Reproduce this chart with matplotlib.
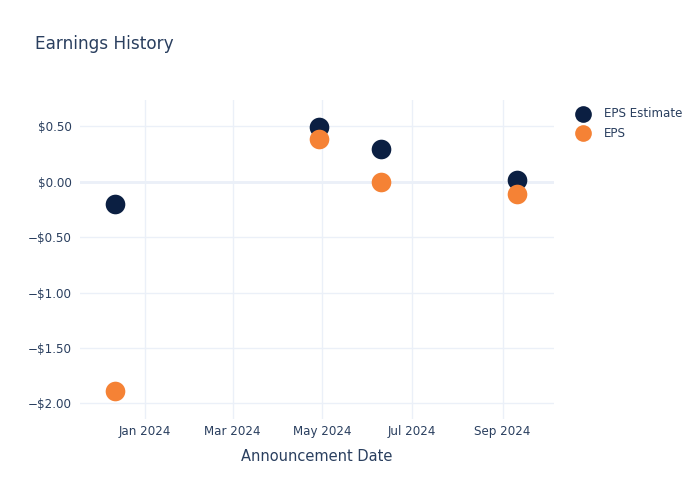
import matplotlib
matplotlib.use("Agg")
import matplotlib.pyplot as plt
import matplotlib.dates as mdates
from matplotlib.ticker import FuncFormatter
import datetime as dt

# --- dados ---
datas = ["2023-12-12", "2024-04-29", "2024-06-10", "2024-09-11"]
eps_estimate = [-0.20, 0.49, 0.30, 0.02]
eps_real = [-1.89, 0.39, 0.00, -0.11]
y_ticks = [0.5, 0.0, -0.5, -1.0, -1.5, -2.0]
x_ticks = ["2024-01-01", "2024-03-01", "2024-05-01", "2024-07-01", "2024-09-01"]

texto = "#2a3f5f"
grade = "#ebf0f8"
azul = "#0b1f42"
laranja = "#f58235"

x = [dt.datetime.fromisoformat(d) for d in datas]

fig = plt.figure(figsize=(7, 5), dpi=100)
ax = fig.add_axes([0.1143, 0.162, 0.677, 0.638])

ax.scatter(x, eps_estimate, s=200, color=azul, label="EPS Estimate", zorder=3, linewidths=0)
ax.scatter(x, eps_real, s=200, color=laranja, label="EPS", zorder=3, linewidths=0)

ax.set_xlim(dt.datetime(2023, 11, 18), dt.datetime(2024, 10, 6))
ax.set_ylim(-2.142, 0.738)

ax.set_xticks([dt.datetime.fromisoformat(d) for d in x_ticks])
ax.xaxis.set_major_formatter(mdates.DateFormatter("%b %Y"))
ax.set_yticks(y_ticks)


def fmt_dolar(v, pos):
    if abs(v) < 1e-9:
        return "$0.00"
    sinal = "\u2212" if v < 0 else ""
    return f"{sinal}${abs(v):.2f}"


ax.yaxis.set_major_formatter(FuncFormatter(fmt_dolar))

ax.grid(True, color=grade, linewidth=1, zorder=0)
ax.axhline(0, color=grade, linewidth=2, zorder=1)
for s in ax.spines.values():
    s.set_visible(False)
ax.tick_params(axis="both", length=0, colors=texto, labelsize=8.6)
ax.tick_params(axis="x", pad=4)
ax.tick_params(axis="y", pad=6)

ax.set_xlabel("Announcement Date", color=texto, fontsize=10.5, labelpad=8)

fig.text(35 / 700, 1 - 44 / 500, "Earnings History", color=texto, fontsize=12.2, va="center")

leg = ax.legend(loc="upper left", bbox_to_anchor=(1.027, 0.993), frameon=False,
                fontsize=8.6, labelcolor=texto, handletextpad=0.75, borderaxespad=0,
                labelspacing=0.55, markerscale=0.85)

fig.savefig("out.png", dpi=100)
